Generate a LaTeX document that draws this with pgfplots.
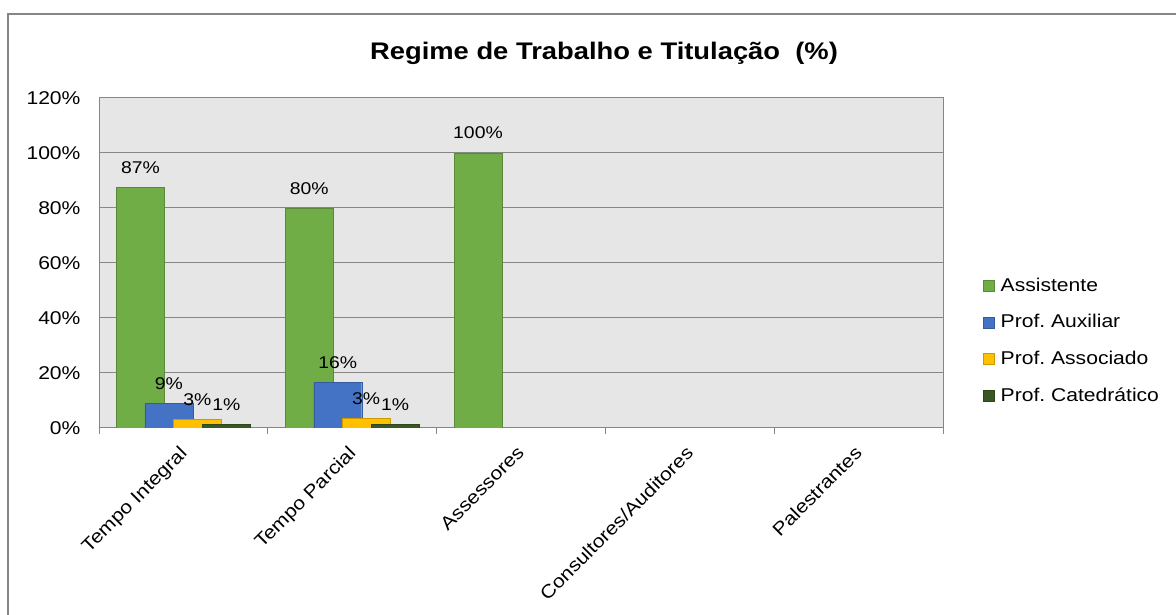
\documentclass[border=0pt]{standalone}
\usepackage{fontspec}
\setmainfont{Liberation Sans}[FakeStretch=1.14]
\usepackage{pgfplots}
\pgfplotsset{compat=1.18}
\definecolor{cGreen}{RGB}{112,173,71}
\definecolor{cBlue}{RGB}{68,114,196}
\definecolor{cYellow}{RGB}{255,192,0}
\definecolor{cDark}{RGB}{56,87,35}
\definecolor{cGrid}{RGB}{134,134,134}
\definecolor{cBack}{RGB}{230,230,230}
\newcommand{\fs}{\fontsize{18.5pt}{22pt}\selectfont}
\frenchspacing
\begin{document}
\begin{tikzpicture}
\useasboundingbox (0,0) rectangle (1176pt,615pt);
\fill[white] (0,0) rectangle (1176pt,615pt);
\draw[cGrid, line width=1.5pt] (8pt,-10pt) -- (8pt,601pt) -- (1190pt,601pt);
\node[font=\fontsize{24pt}{28pt}\selectfont\bfseries] at (604pt,562pt) {Regime de Trabalho e Titulação\ \ (\%)};
\begin{axis}[
  at={(99pt,187pt)}, anchor=south west,
  width=844pt, height=330pt, scale only axis,
  xmin=-0.5, xmax=4.5, ymin=0, ymax=120,
  axis background/.style={fill=cBack},
  axis line style={cGrid, line width=1pt},
  ytick={0,20,...,120},
  yticklabel={\pgfmathprintnumber{\tick}\%},
  /pgf/number format/assume math mode=true,
  ymajorgrids, grid style={cGrid, line width=1pt},
  major y tick style={draw=none},
  xtick={0,1,2,3,4},
  xticklabels={Tempo Integral, Tempo Parcial, Assessores, Consultores/Auditores, Palestrantes},
  major x tick style={draw=none},
  minor xtick={-0.5,0.5,1.5,2.5,3.5,4.5},
  minor x tick style={cGrid, line width=1pt},
  xtick pos=bottom, ytick pos=left,
  xtick align=outside, minor tick length=6pt,
  tick label style={font=\fs, text=black},
  yticklabel style={xshift=-15pt},
  xticklabel style={xshift=-5pt, yshift=-11pt, rotate=45, anchor=north east, inner sep=1pt},
  point meta=explicit symbolic,
  nodes near coords,
  every node near coord/.append style={font=\fontsize{17pt}{20pt}\selectfont, anchor=base, yshift=14pt, text=black},
  legend style={draw=none, fill=none, at={(1.044,0.263)}, anchor=west,
    font=\fs, row sep=18.8pt,
    nodes={inner sep=0pt, text height=14pt, text depth=4pt, anchor=west}},
  legend cell align=left,
  legend image code/.code={\draw[#1] (0pt,-5pt) rectangle (11pt,6pt); \path (17pt,0pt);},
]
\addplot[ybar, bar width=48pt, bar shift=-43pt, fill=cGreen, draw=cGreen!80!black,
  every node near coord/.append style={xshift=-43pt}]
  coordinates {(0,87.4) [87\%] (1,79.9) [80\%] (2,100) [100\%]};
\addlegendentry{Assistente}
\addplot[ybar, bar width=48pt, bar shift=-14.5pt, fill=cBlue, draw=cBlue!80!black,
  every node near coord/.append style={xshift=-14.5pt}]
  coordinates {(0,8.9) [9\%] (1,16.6) [16\%]};
\addlegendentry{Prof. Auxiliar}
\addplot[ybar, bar width=48pt, bar shift=14pt, fill=cYellow, draw=cYellow!80!black,
  every node near coord/.append style={xshift=14pt}]
  coordinates {(0,3.2) [3\%] (1,3.4) [3\%]};
\addlegendentry{Prof. Associado}
\addplot[ybar, bar width=48pt, bar shift=43pt, fill=cDark, draw=cDark!80!black,
  every node near coord/.append style={xshift=43pt}]
  coordinates {(0,1.4) [1\%] (1,1.3) [1\%]};
\addlegendentry{Prof. Catedrático}
\end{axis}
\end{tikzpicture}
\end{document}
